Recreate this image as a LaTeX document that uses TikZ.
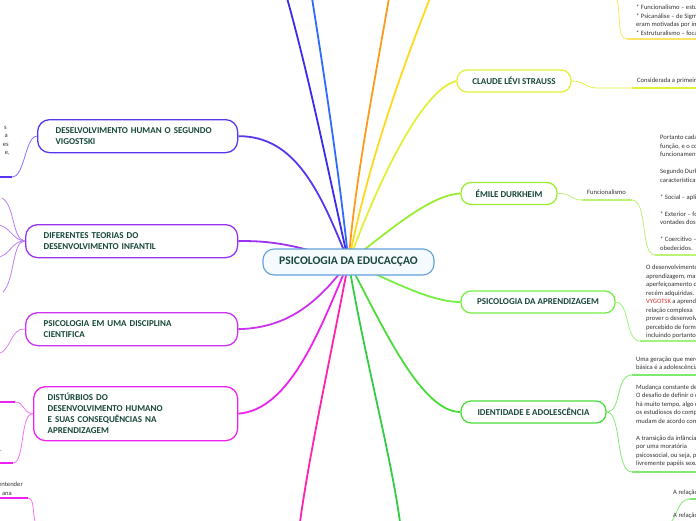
\documentclass[tikz,border=0pt]{standalone}
\usepackage{fontspec}
\setmainfont{Carlito}
\usetikzlibrary{backgrounds}
\definecolor{tgreen}{HTML}{17473A}
\definecolor{ngray}{HTML}{333333}
\definecolor{cblue}{HTML}{5F9FDA}
\definecolor{cfill}{HTML}{F5FAFF}
\definecolor{cvio}{HTML}{5A35F0}
\definecolor{cvioL}{HTML}{8F70FF}
\definecolor{cblueA}{HTML}{3A2BEF}
\definecolor{cblueB}{HTML}{2F6BFF}
\definecolor{corange}{HTML}{FF9A1F}
\definecolor{cyellow}{HTML}{FFD91F}
\definecolor{cyellowL}{HTML}{FFE566}
\definecolor{clime}{HTML}{E3F03A}
\definecolor{climeL}{HTML}{EEF566}
\definecolor{cdurk}{HTML}{99EE33}
\definecolor{cdurkL}{HTML}{BBF277}
\definecolor{capr}{HTML}{77EE44}
\definecolor{caprL}{HTML}{A0F27A}
\definecolor{cide}{HTML}{4ADD3A}
\definecolor{cideL}{HTML}{80EA70}
\definecolor{cgreen}{HTML}{33CC44}
\definecolor{cpurp}{HTML}{9933EE}
\definecolor{cpurpL}{HTML}{BB80F5}
\definecolor{cmagA}{HTML}{CC33EE}
\definecolor{cmagAL}{HTML}{E080F5}
\definecolor{cmagB}{HTML}{EE22EE}
\definecolor{cmagBL}{HTML}{F570F5}
\definecolor{cpink}{HTML}{FF22AA}
\definecolor{cred}{HTML}{E03030}
\begin{document}
\begin{tikzpicture}[x=1pt,y=-1pt,
  box/.style={draw, rounded corners=12pt, line width=1.3pt, fill=white,
    font=\fontsize{9}{11}\selectfont\bfseries, text=tgreen, inner ysep=0pt},
  lbox/.style={box, align=left, anchor=north west},
  rbox/.style={box, align=center, rounded corners=10pt, minimum height=22, inner xsep=0pt},
  note/.style={font=\fontsize{6.6}{8.5}\selectfont, text=ngray, align=left, inner sep=0pt, anchor=north west},
  frag/.style={font=\fontsize{6.6}{8.5}\selectfont, text=ngray, inner sep=0pt, anchor=base east},
  conn/.style={line width=1.8pt},
  sub/.style={line width=0.8pt},
  uline/.style={line width=1.8pt}]

% central node
\node[draw=cblue, fill=cfill, rounded corners=11pt, line width=1.1pt, minimum width=171, minimum height=26,
  font=\fontsize{11.6}{13}\selectfont\bfseries, text=tgreen, inner sep=0pt] (c) at (348.5,262) {PSICOLOGIA DA EDUCACÇAO};

% left boxes
\node[lbox, draw=cvio, text width=164, inner xsep=18, minimum height=33] (b1) at (37,119) {DESELVOLVIMENTO HUMAN O SEGUNDO\\VIGOSTSKI};
\node[lbox, draw=cpurp, text width=176, inner xsep=18, minimum height=33] (b2) at (25,224) {DIFERENTES TEORIAS DO\\DESENVOLVIMENTO INFANTIL};
\node[lbox, draw=cmagA, text width=176, inner xsep=18, minimum height=33] (b3) at (25,312) {PSICOLOGIA EM UMA DISCIPLINA\\CIENTIFICA};
\node[lbox, draw=cmagB, text width=176, inner xsep=14, minimum height=54] (b4) at (33,386) {DISTÚRBIOS DO\\DESENVOLVIMENTO HUMANO\\E SUAS CONSEQUÊNCIAS NA\\APRENDIZAGEM};

% right boxes
\node[rbox, draw=clime, minimum width=114] (r1) at (514,81) {CLAUDE LÉVI STRAUSS};
\node[rbox, draw=cdurk, minimum width=96] (r2) at (509,193.5) {ÉMILE DURKHEIM};
\node[rbox, draw=capr, minimum width=154] (r3) at (538,302) {PSICOLOGIA DA APRENDIZAGEM};
\node[rbox, draw=cide, minimum width=145] (r4) at (533.5,412) {IDENTIDADE E ADOLESCÊNCIA};

% edge coordinates
\coordinate (eA) at (287,-2);
\coordinate (eB) at (312,-2);
\coordinate (eC) at (389,-2);
\coordinate (eD) at (430,-2);
\coordinate (eE) at (300,522);
\coordinate (eF) at (400,522);

% notes, right side
\node[note] (n0) at (636,4.7) {* Funcionalismo – estudava\\* Psicanálise – de Sigmund\\eram motivadas por impulsos\\* Estruturalismo – focava};
\node[note] (n1) at (637,78.2) {Considerada a primeira};
\node[note] (n2) at (587,189.7) {Funcionalismo};
\node[note] (n3) at (660,135.2) {Portanto cada parte\\função, e o conjunto\\funcionamento da\\~\\Segundo Durkheim\\características\\~\\* Social – aplica-se\\~\\* Exterior – fora\\vontades dos indivíduos\\~\\* Coercitivo – impostos\\obedecidos.};
\node[note] (n4) at (646,265.2) {O desenvolvimento\\aprendizagem, mas\\aperfeiçoamento das\\recém adquiridas.\\\textcolor{cred}{VYGOTSK} a aprendizagem\\relação complexa\\prover o desenvolvimento\\percebido de forma\\incluindo portanto};
\node[note] (n5) at (636,356.7) {Uma geração que merece\\básica é a adolescência};
\node[note] (n6) at (636,384.7) {Mudança constante de\\O desafio de definir o que\\há muito tempo, algo que\\os estudiosos do comportamento\\mudam de acordo com};
\node[note] (n7) at (636,435.7) {A transição da infância\\por uma moratória\\psicossocial, ou seja, período\\livremente papéis sexuais};
\node[note] (n8) at (673,489.7) {A relação};
\node[note] (n9) at (673,512.7) {A relação};

% fragments, left side
\node[frag] (f1) at (7,129.5) {s};
\node[frag] (f2) at (8,137.5) {a};
\node[frag] (f3) at (9,146) {es};
\node[frag] (f4) at (10,154.5) {e,};
\node[frag] (f5) at (2,451.5) {.};
\node[frag] (f6) at (23,486.5) {entender};
\node[frag] (f7) at (12,495) {ana};

\begin{scope}[on background layer]
% main connectors
\draw[conn, cvio] (c.center) .. controls (320,190) and (295,136) .. (b1.east);
\draw[conn, cpurp] (c.center) .. controls (310,250) and (280,240) .. (b2.east);
\draw[conn, cmagA] (c.center) .. controls (320,300) and (290,328) .. (b3.east);
\draw[conn, cmagB] (c.center) .. controls (320,330) and (290,410) .. (b4.east);
\draw[conn, cblueA] (c.center) .. controls (330,180) and (310,80) .. (eA);
\draw[conn, cblueB] (c.center) .. controls (340,180) and (325,80) .. (eB);
\draw[conn, corange] (c.center) .. controls (355,180) and (375,80) .. (eC);
\draw[conn, cyellow] (c.center) .. controls (365,180) and (390,100) .. (eD);
\draw[conn, clime] (c.center) .. controls (375,190) and (420,90) .. (r1.west);
\draw[conn, cdurk] (c.center) .. controls (390,230) and (430,195) .. (r2.west);
\draw[conn, capr] (c.center) .. controls (390,280) and (430,302) .. (r3.west);
\draw[conn, cide] (c.center) .. controls (380,320) and (420,412) .. (r4.west);
\draw[conn, cpink] (c.center) .. controls (330,360) and (310,450) .. (eE);
\draw[conn, cgreen] (c.center) .. controls (365,360) and (390,450) .. (eF);

% right sub-connectors
\draw[sub, clime] (r1.east) .. controls (585,81) and (585,88) .. (597,88) -- (632,88);
\draw[uline, clime] (632,88) -- (696,88);
\draw[sub, cyellowL] (627,39) .. controls (617,39) and (621,20) .. (617,-2);
\draw[uline, cyellowL] (627,39) -- (696,39);
\draw[sub, cdurkL] (r2.east) .. controls (572,193) and (570,200) .. (582,200);
\draw[uline, cdurkL] (582,200) -- (632,200);
\draw[sub, cdurkL] (632,200) .. controls (648,200) and (640,255) .. (655,255);
\draw[uline, cdurkL] (655,255) -- (696,255);
\draw[sub, caprL] (r3.east) .. controls (630,302) and (625,341) .. (640,341);
\draw[uline, caprL] (640,341) -- (696,341);
\draw[sub, cideL] (r4.east) .. controls (622,412) and (615,375) .. (632,375);
\draw[uline, cideL] (632,375) -- (696,375);
\draw[sub, cideL] (r4.east) .. controls (622,412) and (615,472) .. (632,472);
\draw[uline, cideL] (632,472) -- (696,472);
\draw[sub, cideL] (690,499) .. controls (676,499) and (678,520) .. (668,524);
\draw[uline, cideL] (690,499) -- (696,499);

% left sub-connectors
\draw[sub, cvioL] (b1.west) .. controls (25,136) and (25,177) .. (12,177);
\draw[uline, cvio] (12,177) -- (-2,177);
\draw[sub, cpurpL] (b2.west) .. controls (12,240) and (15,205) .. (2,198);
\draw[sub, cpurpL] (b2.west) .. controls (12,240) and (10,226) .. (-2,225);
\draw[sub, cpurpL] (b2.west) .. controls (12,240) and (10,256) .. (-2,257);
\draw[sub, cpurpL] (b2.west) .. controls (12,240) and (15,280) .. (3,292);
\draw[sub, cmagAL] (b3.west) .. controls (10,328) and (12,350) .. (-2,354);
\draw[sub, cmagBL] (b4.west) .. controls (22,413) and (25,402) .. (15,402);
\draw[uline, cmagB] (15,402) -- (-2,402);
\draw[sub, cmagBL] (b4.west) .. controls (20,413) and (25,463) .. (13,463);
\draw[uline, cmagB] (13,463) -- (-2,463);
\draw[uline, cmagB] (28,498) -- (-2,498);
\draw[sub, cmagBL] (28,498) .. controls (35,498) and (32,515) .. (36,524);
\end{scope}
\pgfresetboundingbox
\useasboundingbox (0,0) rectangle (696,520);
\end{tikzpicture}
\end{document}
